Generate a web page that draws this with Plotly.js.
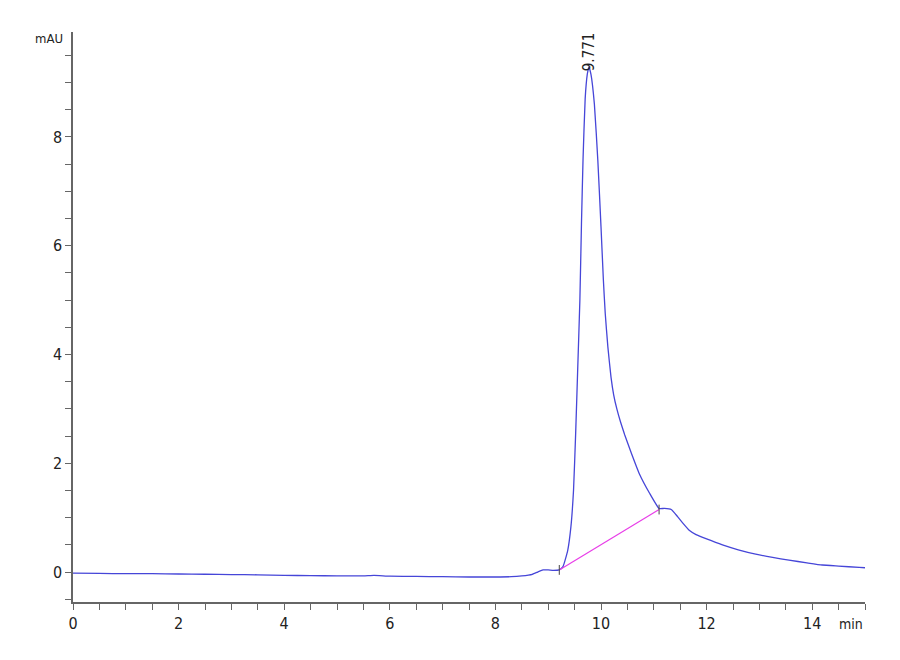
<!DOCTYPE html>
<html>
<head>
<meta charset="utf-8">
<script src="https://cdn.plot.ly/plotly-3.0.1.min.js"></script>
<style>
  body { margin: 0; background: #fff; }
  #chart { width: 900px; height: 660px; }
</style>
</head>
<body>
<div id="chart"></div>
<script>
// signal trace (min, mAU)
var times = [0, 0.5, 1, 1.5, 2, 2.5, 3, 3.5, 4, 4.5, 5, 5.5, 5.7, 6, 6.5, 7, 7.5, 8, 8.3, 8.5,
  8.7, 8.8, 8.9, 9.0, 9.1, 9.21, 9.28, 9.37, 9.43, 9.48, 9.52, 9.56, 9.6, 9.63, 9.66, 9.7,
  9.74, 9.771, 9.81, 9.875, 9.94, 10.0, 10.045, 10.08, 10.13, 10.19, 10.24, 10.3, 10.37,
  10.45, 10.57, 10.73, 10.92, 11.1, 11.2, 11.33, 11.45, 11.55, 11.67, 11.8, 12.0, 12.3, 12.6,
  12.93, 13.25, 13.56, 13.9, 14.19, 14.5, 14.89, 15.0];
var signal = [-0.02, -0.025, -0.03, -0.03, -0.035, -0.04, -0.045, -0.05, -0.06, -0.065, -0.07,
  -0.07, -0.06, -0.075, -0.08, -0.085, -0.09, -0.09, -0.085, -0.07,
  -0.04, 0.0, 0.04, 0.04, 0.03, 0.04, 0.10, 0.40, 0.83, 1.51, 2.55, 3.77, 5.0, 6.4, 7.6, 8.7,
  9.15, 9.29, 9.15, 8.6, 7.57, 6.35, 5.37, 4.76, 4.14, 3.58, 3.26, 3.0, 2.76,
  2.52, 2.2, 1.80, 1.45, 1.17, 1.17, 1.15, 1.02, 0.90, 0.77, 0.69, 0.61, 0.50, 0.41,
  0.33, 0.27, 0.22, 0.17, 0.13, 0.11, 0.086, 0.08];

// integration baseline
var baseTimes = [9.21, 11.1];
var baseValues = [0.04, 1.15];

// peak label
var peakTime = 9.771;
var peakValue = 9.29;
var peakLabel = '9.771';

var font = 'DejaVu Sans Condensed, Liberation Sans Narrow, Arial Narrow, sans-serif';

var data = [
  {
    x: times, y: signal, type: 'scatter', mode: 'lines',
    line: {color: '#4646d8', width: 1.3, shape: 'spline', smoothing: 0.4},
    hoverinfo: 'x+y'
  },
  {
    x: baseTimes, y: baseValues, type: 'scatter', mode: 'lines+markers',
    line: {color: '#e83ee8', width: 1.2},
    marker: {symbol: 'line-ns', size: 7, color: '#444', line: {color: '#444', width: 1}}
  }
];

var layout = {
  width: 900, height: 660,
  showlegend: false,
  paper_bgcolor: '#fff', plot_bgcolor: '#fff',
  margin: {l: 73, r: 35, t: 32, b: 58},
  font: {family: font, size: 14, color: '#222'},
  xaxis: {
    range: [0, 15], tickvals: [0, 2, 4, 6, 8, 10, 12, 14],
    showgrid: false, zeroline: false,
    showline: true, linecolor: '#666', linewidth: 1.5,
    ticks: 'outside', ticklen: 6, tickcolor: '#666', tickwidth: 1.2,
    minor: {dtick: 0.5, ticks: 'outside', ticklen: 6, tickcolor: '#666'},
    tickfont: {family: font, size: 16, color: '#222'}
  },
  yaxis: {
    range: [-0.55, 9.93], tickvals: [0, 2, 4, 6, 8],
    showgrid: false, zeroline: false,
    showline: true, linecolor: '#666', linewidth: 1.5,
    ticks: 'outside', ticklen: 6, tickcolor: '#666', tickwidth: 1.2,
    minor: {dtick: 0.5, ticks: 'outside', ticklen: 6, tickcolor: '#666'},
    tickfont: {family: font, size: 16, color: '#222'}
  },
  annotations: [
    {
      x: peakTime, y: peakValue, xref: 'x', yref: 'y',
      text: peakLabel, showarrow: false, textangle: -90,
      xanchor: 'center', yanchor: 'bottom', yshift: -6,
      font: {family: font, size: 15, color: '#222'}
    },
    {
      x: 0, y: 1, xref: 'paper', yref: 'paper', xshift: -8, yshift: -16,
      text: 'mAU', showarrow: false, xanchor: 'right', yanchor: 'bottom',
      font: {family: font, size: 13, color: '#222'}
    },
    {
      x: 1, y: 0, xref: 'paper', yref: 'paper', yshift: -12,
      text: 'min', showarrow: false, xanchor: 'right', yanchor: 'top',
      font: {family: font, size: 14, color: '#222'}
    }
  ]
};

Plotly.newPlot('chart', data, layout, {displayModeBar: false});
</script>
</body>
</html>
